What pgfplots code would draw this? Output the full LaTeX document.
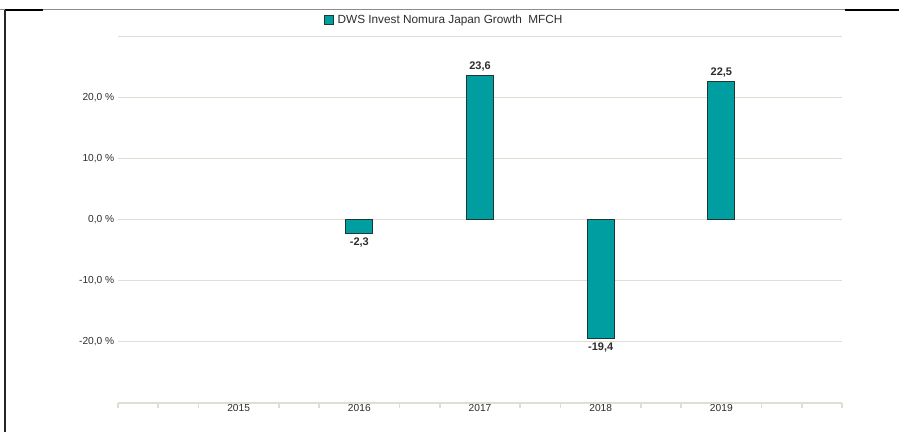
\documentclass[border=0pt]{standalone}
\usepackage{fontspec}
\setmainfont{Liberation Sans}
\usepackage{pgfplots}
\pgfplotsset{compat=1.18}
\definecolor{barfill}{RGB}{0,158,160}
\definecolor{barline}{RGB}{30,55,55}
\definecolor{gridc}{RGB}{224,221,213}
\definecolor{txt}{RGB}{45,45,45}
\begin{document}
\begin{tikzpicture}[x=1pt,y=1pt]
\useasboundingbox (0,-432) rectangle (899,0);
\draw[black!45, line width=1pt] (0,-9) -- (899,-9);
\draw[black, line width=1.5pt] (5,-10) -- (43,-10);
\draw[black, line width=1.5pt] (845,-10) -- (899,-10);
\draw[black!85, line width=1.5pt] (5,-10) -- (5,-432);
\begin{axis}[
  at={(118pt,-403pt)}, anchor=south west,
  scale only axis, width=724pt, height=367pt,
  xmin=2014, xmax=2020, ymin=-30, ymax=30,
  ybar, bar width=27pt,
  axis line style={draw=none},
  xtick={2015,2016,2017,2018,2019},
  xticklabels={2015,2016,2017,2018,2019},
  minor xtick={2014,2014.3333,2014.6667,2015.3333,2015.6667,2016.3333,2016.6667,2017.3333,2017.6667,2018.3333,2018.6667,2019.3333,2019.6667,2020},
  ytick={-20,-10,0,10,20},
  yticklabels={{-20,0 \%},{-10,0 \%},{0,0 \%},{10,0 \%},{20,0 \%}},
  extra y ticks={30}, extra y tick labels={}, extra y tick style={grid=major},
  ymajorgrids,
  grid style={gridc, line width=1pt},
  major tick length=0pt, minor tick length=5pt, tick align=outside,
  tick style={gridc, line width=1.5pt},
  xtick pos=lower, ytick pos=left,
  xticklabel style={anchor=north, inner sep=0pt, yshift=-1pt, font=\fontsize{10.2}{12}\selectfont, text=txt},
  yticklabel style={anchor=east, inner sep=0pt, xshift=-3.5pt, font=\fontsize{10.2}{12}\selectfont, text=txt},
  nodes near coords={\pgfmathprintnumber[fixed, fixed zerofill, precision=1, use comma, assume math mode=true]{\pgfplotspointmeta}},
  every node near coord/.append style={font=\bfseries\fontsize{11}{13}\selectfont, text=txt, inner sep=4pt},
  legend style={draw=none, fill=none, at={(0.2845,1.0436)}, anchor=west, inner sep=0pt,
    font=\fontsize{11.8}{13}\selectfont, text=txt},
  legend cell align=left,
  legend image code/.code={\draw[fill=barfill, draw=barline, line width=0.8pt] (0pt,-4.5pt) rectangle (9pt,4.5pt); \path[draw=none, fill=none] (11pt,0pt) circle (0.01pt);},
]
\addplot[fill=barfill, draw=barline, line width=0.8pt] coordinates {(2016,-2.3) (2017,23.6) (2018,-19.4) (2019,22.5)};
\addlegendentry{DWS Invest Nomura Japan Growth\ \ MFCH}
\draw[gridc, line width=2pt] (axis cs:2014,-30) -- (axis cs:2020,-30);
\end{axis}
\end{tikzpicture}
\end{document}
